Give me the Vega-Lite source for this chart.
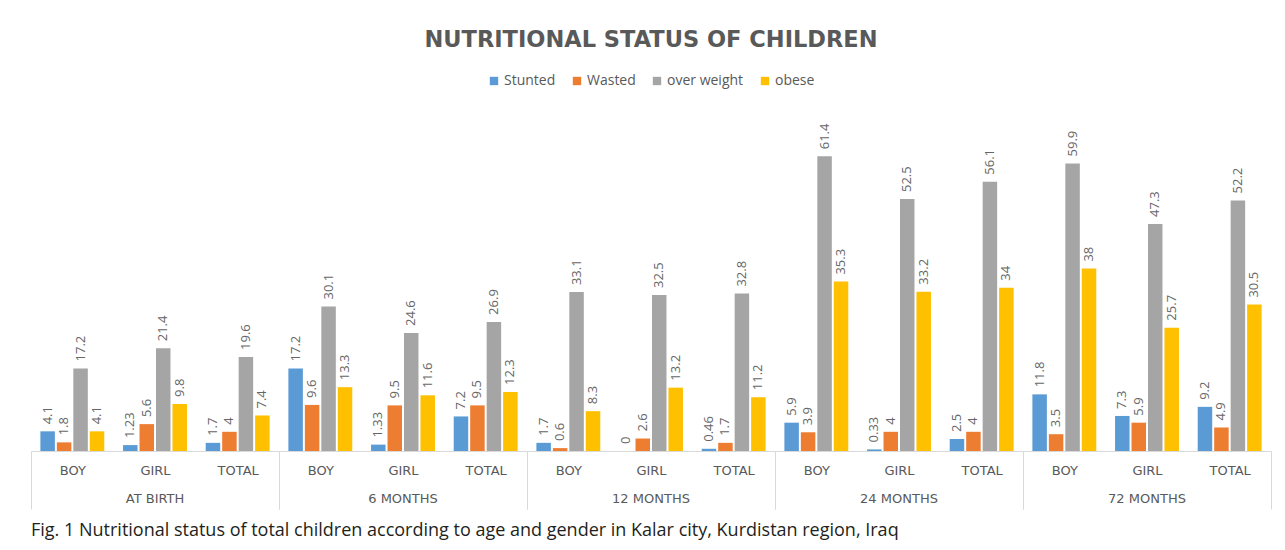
{
  "$schema": "https://vega.github.io/schema/vega-lite/v6.json",
  "background": "white",
  "padding": {"left": 30, "top": 28, "right": 13, "bottom": 5},
  "title": {
    "text": "NUTRITIONAL STATUS OF CHILDREN",
    "font": "DejaVu Sans",
    "fontSize": 22.5,
    "fontWeight": "bold",
    "color": "#595959",
    "anchor": "middle",
    "offset": 23
  },
  "data": {
    "values": [
      {"age": "AT BIRTH", "gender": "BOY", "status": "Stunted", "value": 4.1},
      {"age": "AT BIRTH", "gender": "BOY", "status": "Wasted", "value": 1.8},
      {"age": "AT BIRTH", "gender": "BOY", "status": "over weight", "value": 17.2},
      {"age": "AT BIRTH", "gender": "BOY", "status": "obese", "value": 4.1},
      {"age": "AT BIRTH", "gender": "GIRL", "status": "Stunted", "value": 1.23},
      {"age": "AT BIRTH", "gender": "GIRL", "status": "Wasted", "value": 5.6},
      {"age": "AT BIRTH", "gender": "GIRL", "status": "over weight", "value": 21.4},
      {"age": "AT BIRTH", "gender": "GIRL", "status": "obese", "value": 9.8},
      {"age": "AT BIRTH", "gender": "TOTAL", "status": "Stunted", "value": 1.7},
      {"age": "AT BIRTH", "gender": "TOTAL", "status": "Wasted", "value": 4},
      {"age": "AT BIRTH", "gender": "TOTAL", "status": "over weight", "value": 19.6},
      {"age": "AT BIRTH", "gender": "TOTAL", "status": "obese", "value": 7.4},
      {"age": "6 MONTHS", "gender": "BOY", "status": "Stunted", "value": 17.2},
      {"age": "6 MONTHS", "gender": "BOY", "status": "Wasted", "value": 9.6},
      {"age": "6 MONTHS", "gender": "BOY", "status": "over weight", "value": 30.1},
      {"age": "6 MONTHS", "gender": "BOY", "status": "obese", "value": 13.3},
      {"age": "6 MONTHS", "gender": "GIRL", "status": "Stunted", "value": 1.33},
      {"age": "6 MONTHS", "gender": "GIRL", "status": "Wasted", "value": 9.5},
      {"age": "6 MONTHS", "gender": "GIRL", "status": "over weight", "value": 24.6},
      {"age": "6 MONTHS", "gender": "GIRL", "status": "obese", "value": 11.6},
      {"age": "6 MONTHS", "gender": "TOTAL", "status": "Stunted", "value": 7.2},
      {"age": "6 MONTHS", "gender": "TOTAL", "status": "Wasted", "value": 9.5},
      {"age": "6 MONTHS", "gender": "TOTAL", "status": "over weight", "value": 26.9},
      {"age": "6 MONTHS", "gender": "TOTAL", "status": "obese", "value": 12.3},
      {"age": "12 MONTHS", "gender": "BOY", "status": "Stunted", "value": 1.7},
      {"age": "12 MONTHS", "gender": "BOY", "status": "Wasted", "value": 0.6},
      {"age": "12 MONTHS", "gender": "BOY", "status": "over weight", "value": 33.1},
      {"age": "12 MONTHS", "gender": "BOY", "status": "obese", "value": 8.3},
      {"age": "12 MONTHS", "gender": "GIRL", "status": "Stunted", "value": 0},
      {"age": "12 MONTHS", "gender": "GIRL", "status": "Wasted", "value": 2.6},
      {"age": "12 MONTHS", "gender": "GIRL", "status": "over weight", "value": 32.5},
      {"age": "12 MONTHS", "gender": "GIRL", "status": "obese", "value": 13.2},
      {"age": "12 MONTHS", "gender": "TOTAL", "status": "Stunted", "value": 0.46},
      {"age": "12 MONTHS", "gender": "TOTAL", "status": "Wasted", "value": 1.7},
      {"age": "12 MONTHS", "gender": "TOTAL", "status": "over weight", "value": 32.8},
      {"age": "12 MONTHS", "gender": "TOTAL", "status": "obese", "value": 11.2},
      {"age": "24 MONTHS", "gender": "BOY", "status": "Stunted", "value": 5.9},
      {"age": "24 MONTHS", "gender": "BOY", "status": "Wasted", "value": 3.9},
      {"age": "24 MONTHS", "gender": "BOY", "status": "over weight", "value": 61.4},
      {"age": "24 MONTHS", "gender": "BOY", "status": "obese", "value": 35.3},
      {"age": "24 MONTHS", "gender": "GIRL", "status": "Stunted", "value": 0.33},
      {"age": "24 MONTHS", "gender": "GIRL", "status": "Wasted", "value": 4},
      {"age": "24 MONTHS", "gender": "GIRL", "status": "over weight", "value": 52.5},
      {"age": "24 MONTHS", "gender": "GIRL", "status": "obese", "value": 33.2},
      {"age": "24 MONTHS", "gender": "TOTAL", "status": "Stunted", "value": 2.5},
      {"age": "24 MONTHS", "gender": "TOTAL", "status": "Wasted", "value": 4},
      {"age": "24 MONTHS", "gender": "TOTAL", "status": "over weight", "value": 56.1},
      {"age": "24 MONTHS", "gender": "TOTAL", "status": "obese", "value": 34},
      {"age": "72 MONTHS", "gender": "BOY", "status": "Stunted", "value": 11.8},
      {"age": "72 MONTHS", "gender": "BOY", "status": "Wasted", "value": 3.5},
      {"age": "72 MONTHS", "gender": "BOY", "status": "over weight", "value": 59.9},
      {"age": "72 MONTHS", "gender": "BOY", "status": "obese", "value": 38},
      {"age": "72 MONTHS", "gender": "GIRL", "status": "Stunted", "value": 7.3},
      {"age": "72 MONTHS", "gender": "GIRL", "status": "Wasted", "value": 5.9},
      {"age": "72 MONTHS", "gender": "GIRL", "status": "over weight", "value": 47.3},
      {"age": "72 MONTHS", "gender": "GIRL", "status": "obese", "value": 25.7},
      {"age": "72 MONTHS", "gender": "TOTAL", "status": "Stunted", "value": 9.2},
      {"age": "72 MONTHS", "gender": "TOTAL", "status": "Wasted", "value": 4.9},
      {"age": "72 MONTHS", "gender": "TOTAL", "status": "over weight", "value": 52.2},
      {"age": "72 MONTHS", "gender": "TOTAL", "status": "obese", "value": 30.5}
    ]
  },
  "facet": {
    "column": {
      "field": "age",
      "type": "nominal",
      "sort": ["AT BIRTH", "6 MONTHS", "12 MONTHS", "24 MONTHS", "72 MONTHS"],
      "header": {
        "labelOrient": "bottom",
        "titleOrient": "bottom",
        "title": "Fig. 1  Nutritional status of total children according to age and gender in Kalar city, Kurdistan region, Iraq",
        "titleAnchor": "start",
        "titleFont": "Open Sans",
        "titleFontSize": 18,
        "titleFontWeight": "normal",
        "titleColor": "#231f20",
        "titlePadding": 2,
        "labelFont": "DejaVu Sans",
        "labelFontSize": 13,
        "labelColor": "#595959",
        "labelPadding": -17
      }
    }
  },
  "spacing": 0,
  "spec": {
    "width": 248,
    "height": 312,
    "encoding": {
      "x": {
        "field": "gender",
        "type": "nominal",
        "sort": ["BOY", "GIRL", "TOTAL"],
        "scale": {"paddingInner": 0, "paddingOuter": 0},
        "axis": {
          "title": null,
          "labelAngle": 0,
          "labelFont": "DejaVu Sans",
          "labelFontSize": 13,
          "labelColor": "#595959",
          "domainColor": "#d9d9d9",
          "tickBand": "extent",
          "tickSize": 58,
          "tickColor": {"condition": {"test": "datum.value === 'TOTAL' || !!datum.extra", "value": "#d9d9d9"}, "value": "transparent"},
          "labelPadding": -45
        }
      },
      "xOffset": {
        "field": "status",
        "type": "nominal",
        "sort": ["Stunted", "Wasted", "over weight", "obese"],
        "scale": {"paddingInner": 0.12, "paddingOuter": 0.57}
      },
      "y": {
        "field": "value",
        "type": "quantitative",
        "scale": {"domain": [0, 65], "nice": false},
        "axis": null
      }
    },
    "layer": [
      {
        "mark": {"type": "bar"},
        "encoding": {
          "color": {
            "field": "status",
            "type": "nominal",
            "sort": ["Stunted", "Wasted", "over weight", "obese"],
            "scale": {
              "domain": ["Stunted", "Wasted", "over weight", "obese"],
              "range": ["#5b9bd5", "#ed7d31", "#a5a5a5", "#ffc000"]
            },
            "legend": {
              "title": null,
              "orient": "top",
              "direction": "horizontal",
              "symbolType": "square",
              "symbolSize": 70,
              "symbolStrokeWidth": 0,
              "labelFont": "Open Sans",
              "labelFontSize": 14,
              "labelColor": "#595959",
              "labelOffset": 3,
              "columnPadding": 14,
              "offset": 35
            }
          }
        }
      },
      {
        "mark": {"type": "text", "angle": -90, "align": "left", "baseline": "middle", "dx": 7, "font": "Open Sans", "fontSize": 13, "color": "#666666"},
        "encoding": {
          "text": {"field": "value", "type": "quantitative", "format": "~g"}
        }
      }
    ]
  },
  "config": {
    "view": {"stroke": null},
    "legend": {"layout": {"top": {"anchor": "middle"}}}
  }
}
